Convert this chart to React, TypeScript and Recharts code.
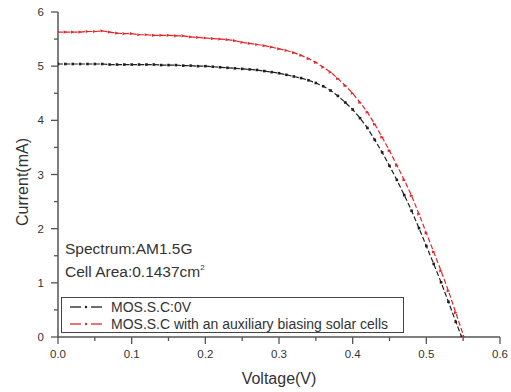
import { Line, LineChart, XAxis, YAxis } from "recharts";

const W = 511;
const H = 392;
const FONT = "'Liberation Sans', Arial, sans-serif";
const BLACK = "#1e1e1e";
const RED = "#e3262b";
const AXIS = "#555";
const TEXT = "#333";

// MOS.S.C:0V
const V_BLACK = [
  0, 0.01, 0.02, 0.03, 0.04, 0.05, 0.06, 0.07, 0.08, 0.09, 0.1, 0.11, 0.12, 0.13, 0.14, 0.15,
  0.16, 0.17, 0.18, 0.19, 0.2, 0.21, 0.22, 0.23, 0.24, 0.25, 0.26, 0.27, 0.28, 0.29, 0.3, 0.31,
  0.32, 0.33, 0.34, 0.35, 0.36, 0.37, 0.38, 0.39, 0.4, 0.41, 0.42, 0.43, 0.44, 0.45, 0.46, 0.47,
  0.48, 0.49, 0.5, 0.51, 0.52, 0.53, 0.54, 0.548,
];
const I_BLACK = [
  5.04, 5.04, 5.04, 5.04, 5.04, 5.04, 5.04, 5.03, 5.03, 5.03, 5.03, 5.03, 5.03, 5.03, 5.02, 5.02,
  5.02, 5.01, 5.01, 5.0, 5.0, 4.99, 4.98, 4.97, 4.96, 4.95, 4.94, 4.93, 4.91, 4.89, 4.87, 4.84,
  4.81, 4.78, 4.74, 4.69, 4.63, 4.55, 4.45, 4.33, 4.2, 4.04, 3.86, 3.64, 3.41, 3.16, 2.9, 2.62,
  2.33, 2.01, 1.68, 1.35, 1.01, 0.65, 0.28, 0,
];

// MOS.S.C with an auxiliary biasing solar cells
const V_RED = [
  0, 0.01, 0.02, 0.03, 0.04, 0.05, 0.06, 0.07, 0.08, 0.09, 0.1, 0.11, 0.12, 0.13, 0.14, 0.15,
  0.16, 0.17, 0.18, 0.19, 0.2, 0.21, 0.22, 0.23, 0.24, 0.25, 0.26, 0.27, 0.28, 0.29, 0.3, 0.31,
  0.32, 0.33, 0.34, 0.35, 0.36, 0.37, 0.38, 0.39, 0.4, 0.41, 0.42, 0.43, 0.44, 0.45, 0.46, 0.47,
  0.48, 0.49, 0.5, 0.51, 0.52, 0.53, 0.54, 0.551,
];
const I_RED = [
  5.63, 5.63, 5.63, 5.63, 5.64, 5.64, 5.65, 5.63, 5.61, 5.6, 5.6, 5.58, 5.58, 5.57, 5.57, 5.57,
  5.56, 5.56, 5.54, 5.53, 5.52, 5.51, 5.5, 5.49, 5.47, 5.44, 5.42, 5.4, 5.38, 5.35, 5.32, 5.29,
  5.25, 5.2, 5.14, 5.07, 4.98, 4.89, 4.77, 4.64, 4.5, 4.33, 4.15, 3.93, 3.69, 3.44, 3.17, 2.9,
  2.61, 2.27, 1.92, 1.57, 1.22, 0.85, 0.45, 0,
];

const X_TICKS = [0, 0.05, 0.1, 0.15, 0.2, 0.25, 0.3, 0.35, 0.4, 0.45, 0.5, 0.55, 0.6];
const Y_TICKS = [0, 0.5, 1, 1.5, 2, 2.5, 3, 3.5, 4, 4.5, 5, 5.5, 6];

const blackData = V_BLACK.map((v, i) => ({ v, i: I_BLACK[i] }));
const redData = V_RED.map((v, i) => ({ v, i: I_RED[i] }));

const isMajor = (value: number, step: number) => Math.abs(value / step - Math.round(value / step)) < 1e-6;

/** Bottom ticks: long tick + label on majors, short tick on minors. */
function XTick({ x, y, payload }: { x?: number; y?: number; payload?: { value: number } }) {
  if (x == null || y == null || !payload) return null;
  const major = isMajor(payload.value, 0.1);
  return (
    <g>
      <line x1={x} x2={x} y1={y} y2={y + (major ? 7 : 4)} stroke={AXIS} strokeWidth={1.3} />
      {major && (
        <text x={x} y={y + 21} textAnchor="middle" fontSize={11.5} fill={TEXT} fontFamily={FONT}>
          {payload.value.toFixed(1)}
        </text>
      )}
    </g>
  );
}

function YTick({ x, y, payload }: { x?: number; y?: number; payload?: { value: number } }) {
  if (x == null || y == null || !payload) return null;
  const major = isMajor(payload.value, 1);
  return (
    <g>
      <line x1={x} x2={x - (major ? 7 : 4)} y1={y} y2={y} stroke={AXIS} strokeWidth={1.3} />
      {major && (
        <text x={x - 14} y={y + 4} textAnchor="end" fontSize={11.5} fill={TEXT} fontFamily={FONT}>
          {payload.value}
        </text>
      )}
    </g>
  );
}

function RedMark({ cx, cy }: { cx?: number; cy?: number }) {
  if (cx == null || cy == null) return null;
  return <path d={`M${cx - 1.8},${cy - 1.6} L${cx + 1.8},${cy} L${cx - 1.8},${cy + 1.6} Z`} fill={RED} />;
}

function BlackMark({ cx, cy }: { cx?: number; cy?: number }) {
  if (cx == null || cy == null) return null;
  return <rect x={cx - 1.3} y={cy - 1.3} width={2.6} height={2.6} fill={BLACK} />;
}

function LegendSample({ color }: { color: string }) {
  return (
    <svg width={34} height={10} style={{ display: "block" }}>
      <line x1={1} x2={12} y1={5} y2={5} stroke={color} strokeWidth={1.3} />
      <circle cx={17} cy={5} r={1.2} fill={color} />
      <line x1={22} x2={33} y1={5} y2={5} stroke={color} strokeWidth={1.3} />
    </svg>
  );
}

export default function App() {
  return (
    <div style={{ position: "absolute", left: 0, top: 0, width: W, height: H, background: "#fff" }}>
      <LineChart width={W} height={H} margin={{ top: 12, right: 11, bottom: 0, left: 0 }}>
        <XAxis
          type="number"
          dataKey="v"
          domain={[0, 0.6]}
          ticks={X_TICKS}
          interval={0}
          allowDataOverflow
          height={55}
          tickSize={0}
          tickMargin={0}
          tickLine={false}
          axisLine={{ stroke: AXIS, strokeWidth: 1.5 }}
          tick={<XTick />}
          label={({ viewBox }: { viewBox?: { x: number; y: number; width: number } }) =>
            viewBox ? (
              <text
                x={viewBox.x + viewBox.width / 2}
                y={viewBox.y + 47}
                textAnchor="middle"
                fontSize={16}
                fill={TEXT}
                fontFamily={FONT}
              >
                Voltage(V)
              </text>
            ) : null
          }
        />
        <YAxis
          type="number"
          dataKey="i"
          domain={[0, 6]}
          ticks={Y_TICKS}
          interval={0}
          allowDataOverflow
          width={58}
          tickSize={0}
          tickMargin={0}
          tickLine={false}
          axisLine={{ stroke: AXIS, strokeWidth: 1.5 }}
          tick={<YTick />}
          label={() => (
            <text
              x={28}
              y={182}
              transform="rotate(-90 28 182)"
              textAnchor="middle"
              fontSize={16}
              fill={TEXT}
              fontFamily={FONT}
            >
              Current(mA)
            </text>
          )}
        />
        <Line
          data={blackData}
          dataKey="i"
          type="linear"
          stroke={BLACK}
          strokeWidth={1.2}
          strokeDasharray="5 2.4"
          dot={<BlackMark />}
          activeDot={false}
          isAnimationActive={false}
        />
        <Line
          data={redData}
          dataKey="i"
          type="linear"
          stroke={RED}
          strokeWidth={1.2}
          strokeDasharray="5 2.4"
          dot={<RedMark />}
          activeDot={false}
          isAnimationActive={false}
        />
      </LineChart>

      {/* measurement conditions */}
      <div
        style={{
          position: "absolute",
          left: 65,
          top: 237,
          fontFamily: FONT,
          fontSize: 15.5,
          color: TEXT,
          lineHeight: "23px",
        }}
      >
        <div>Spectrum:AM1.5G</div>
        <div>
          Cell Area:0.1437cm<sup style={{ fontSize: 8, lineHeight: 0, verticalAlign: 7 }}>2</sup>
        </div>
      </div>

      {/* legend box */}
      <div
        style={{
          position: "absolute",
          left: 61,
          top: 297,
          width: 343,
          height: 36,
          border: "1.2px solid #444",
          fontFamily: FONT,
          fontSize: 14,
          color: TEXT,
          boxSizing: "border-box",
          padding: "1px 0 0 7px",
        }}
      >
        <div style={{ display: "flex", alignItems: "center", height: 16.5 }}>
          <LegendSample color={BLACK} />
          <span style={{ marginLeft: 8 }}>MOS.S.C:0V</span>
        </div>
        <div style={{ display: "flex", alignItems: "center", height: 16.5 }}>
          <LegendSample color={RED} />
          <span style={{ marginLeft: 8 }}>MOS.S.C with an auxiliary biasing solar cells</span>
        </div>
      </div>
    </div>
  );
}
